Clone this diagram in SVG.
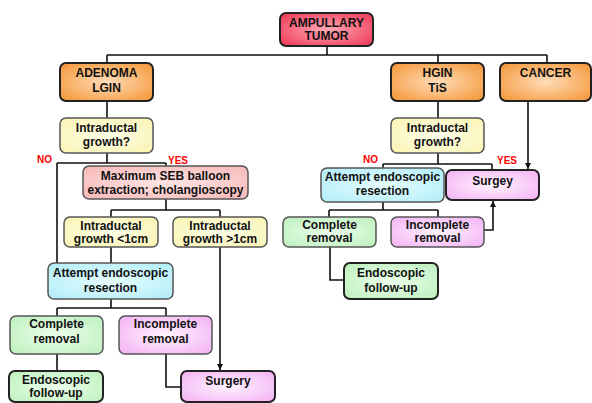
<svg xmlns="http://www.w3.org/2000/svg" width="592" height="403" viewBox="0 0 592 403">
<defs>
<radialGradient id="gRed" cx="50%" cy="50%" r="65%"><stop offset="0" stop-color="#ffa8b4"/><stop offset="1" stop-color="#f03c5a"/></radialGradient>
<radialGradient id="gOr" cx="50%" cy="50%" r="65%"><stop offset="0" stop-color="#ffdcb8"/><stop offset="1" stop-color="#f5993c"/></radialGradient>
<radialGradient id="gYe" cx="50%" cy="50%" r="65%"><stop offset="0" stop-color="#ffffea"/><stop offset="1" stop-color="#faf4b4"/></radialGradient>
<radialGradient id="gPk" cx="50%" cy="50%" r="65%"><stop offset="0" stop-color="#ffe4e4"/><stop offset="1" stop-color="#f7baba"/></radialGradient>
<radialGradient id="gCy" cx="50%" cy="50%" r="65%"><stop offset="0" stop-color="#e6fdff"/><stop offset="1" stop-color="#b4eef8"/></radialGradient>
<radialGradient id="gGr" cx="50%" cy="50%" r="65%"><stop offset="0" stop-color="#ecfeec"/><stop offset="1" stop-color="#bff1bf"/></radialGradient>
<radialGradient id="gMg" cx="50%" cy="50%" r="65%"><stop offset="0" stop-color="#fff4ff"/><stop offset="1" stop-color="#f4b4f4"/></radialGradient>
<marker id="arr" markerUnits="userSpaceOnUse" markerWidth="8" markerHeight="8" refX="6" refY="3" orient="auto"><path d="M0,0 L6,3 L0,6 z" fill="#111"/></marker>
</defs>
<style>
.b{stroke:#555;stroke-width:1.5}
.k{stroke:#222;stroke-width:2}
.red{fill:url(#gRed)}.or{fill:url(#gOr)}.ye{fill:url(#gYe)}.pk{fill:url(#gPk)}.cy{fill:url(#gCy)}.gr{fill:url(#gGr)}.mg{fill:url(#gMg)}
text{font-family:"Liberation Sans",Arial,sans-serif;font-weight:bold;font-size:12px;fill:#111;text-anchor:middle}
.lbl{font-size:10px;fill:#ff0000;text-anchor:start}
#connectors path{fill:none;stroke:#111;stroke-width:1.6}
</style>
<rect width="592" height="403" fill="#fff"/>
<g id="connectors">
<path d="M327,46V55M107,55H547M107,55V63M438,55V63M547,55V63"/>
<path d="M107,101V118"/>
<path d="M107,153V163M57,163H166M166,163V166M57,163V263"/>
<path d="M166,199V210M111,210H220M111,210V217M220,210V217"/>
<path d="M111,247V263"/>
<path d="M220,247V370" marker-end="url(#arr)"/>
<path d="M111,299V308M57,308H166M57,308V316M166,308V316"/>
<path d="M57,354V371"/>
<path d="M166,354V387H181"/>
<path d="M438,101V118"/>
<path d="M438,153V164M383,164H492M383,164V168M492,164V170"/>
<path d="M528,101V169" marker-end="url(#arr)"/>
<path d="M383,202V210M329,210H438M329,210V217M438,210V217"/>
<path d="M330,247V280H344"/>
<path d="M484,230H493V201" marker-end="url(#arr)"/>
</g>
<g id="ampullary"><rect x="280" y="13" width="93" height="33" rx="6" class="red k"/><text x="326.5" y="27">AMPULLARY</text><text x="326.5" y="40">TUMOR</text></g>
<g id="adenoma"><rect x="60" y="63" width="93" height="38" rx="6" class="or k"/><text x="106.5" y="77">ADENOMA</text><text x="106.5" y="92">LGIN</text></g>
<g id="hgin"><rect x="391" y="63" width="93" height="38" rx="6" class="or k"/><text x="437.5" y="77">HGIN</text><text x="437.5" y="92">TiS</text></g>
<g id="cancer"><rect x="500" y="63" width="91" height="38" rx="6" class="or k"/><text x="545.5" y="77">CANCER</text></g>
<g id="q1"><rect x="60" y="118" width="93" height="35" rx="6" class="ye b"/><text x="106.5" y="132">Intraductal</text><text x="106.5" y="146">growth?</text></g>
<g id="q2"><rect x="391" y="118" width="93" height="35" rx="6" class="ye b"/><text x="437.5" y="132">Intraductal</text><text x="437.5" y="146">growth?</text></g>
<g id="labels"><text class="lbl" x="37" y="163">NO</text><text class="lbl" x="168" y="164">YES</text><text class="lbl" x="363" y="163">NO</text><text class="lbl" x="497" y="164">YES</text></g>
<g id="seb"><rect x="83" y="166" width="165" height="33" rx="6" class="pk b"/><text x="165.5" y="180">Maximum SEB balloon</text><text x="165.5" y="194">extraction; cholangioscopy</text></g>
<g id="lt1"><rect x="64" y="217" width="94" height="30" rx="6" class="ye b"/><text x="111" y="230">Intraductal</text><text x="111" y="243">growth &lt;1cm</text></g>
<g id="gt1"><rect x="173" y="217" width="94" height="30" rx="6" class="ye b"/><text x="220" y="230">Intraductal</text><text x="220" y="243">growth &gt;1cm</text></g>
<g id="att1"><rect x="48" y="263" width="125" height="36" rx="6" class="cy b"/><text x="110.5" y="277">Attempt endoscopic</text><text x="110.5" y="292">resection</text></g>
<g id="comp1"><rect x="10" y="316" width="93" height="38" rx="6" class="gr b"/><text x="56.5" y="328">Complete</text><text x="56.5" y="343">removal</text></g>
<g id="inc1"><rect x="119" y="316" width="93" height="38" rx="6" class="mg b"/><text x="165.5" y="328">Incomplete</text><text x="165.5" y="343">removal</text></g>
<g id="fu1"><rect x="9" y="371" width="94" height="31" rx="6" class="gr k"/><text x="56" y="384">Endoscopic</text><text x="56" y="397">follow-up</text></g>
<g id="surg1"><rect x="181" y="371" width="94" height="31" rx="6" class="mg k"/><text x="228" y="385">Surgery</text></g>
<g id="att2"><rect x="321" y="168" width="123" height="34" rx="6" class="cy b"/><text x="382.5" y="181">Attempt endoscopic</text><text x="382.5" y="195">resection</text></g>
<g id="surg2"><rect x="446" y="170" width="93" height="30" rx="6" class="mg k"/><text x="492.5" y="185">Surgey</text></g>
<g id="comp2"><rect x="283" y="217" width="93" height="30" rx="6" class="gr b"/><text x="329.5" y="229">Complete</text><text x="329.5" y="242">removal</text></g>
<g id="inc2"><rect x="391" y="217" width="93" height="30" rx="6" class="mg b"/><text x="437.5" y="229">Incomplete</text><text x="437.5" y="242">removal</text></g>
<g id="fu2"><rect x="344" y="263" width="94" height="36" rx="6" class="gr k"/><text x="391" y="277">Endoscopic</text><text x="391" y="292">follow-up</text></g>
</svg>
